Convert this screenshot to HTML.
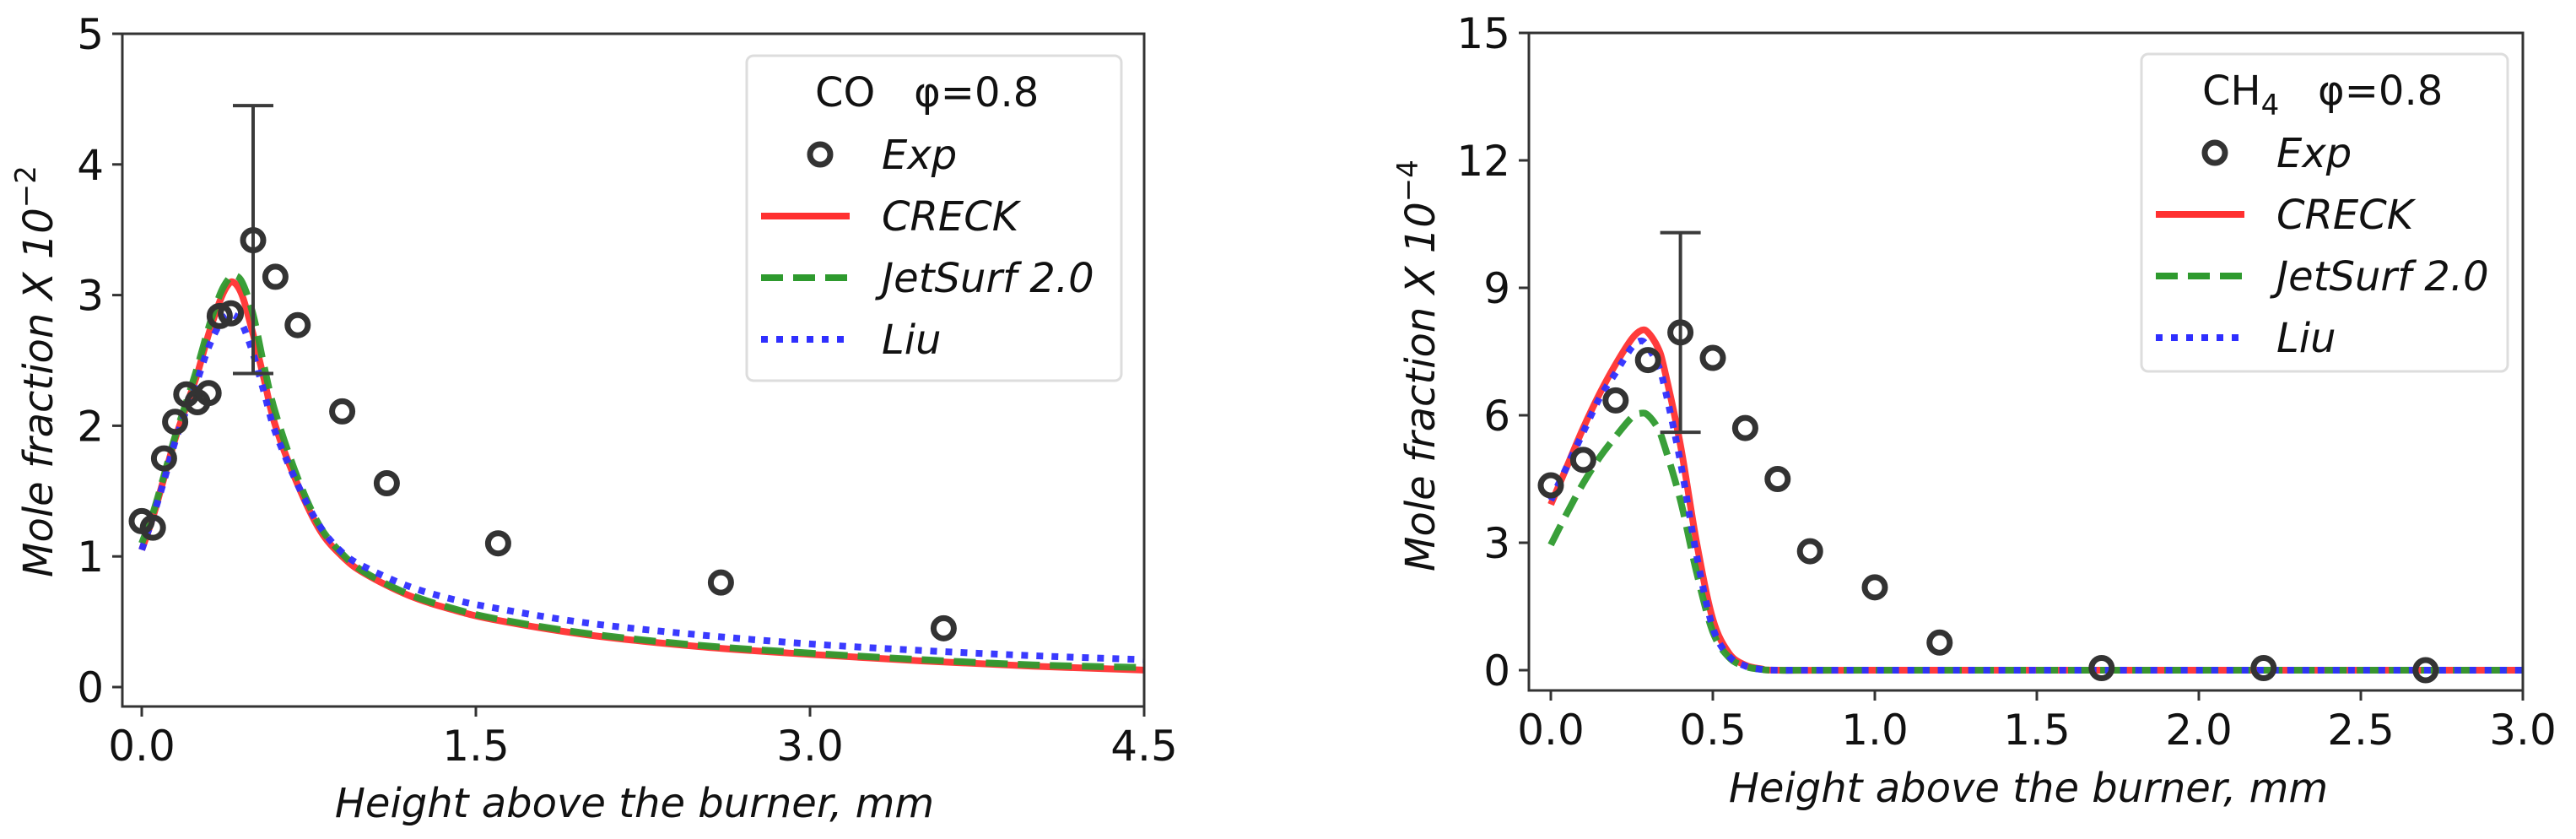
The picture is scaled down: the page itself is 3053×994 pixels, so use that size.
<!DOCTYPE html>
<html><head><meta charset="utf-8">
<style>
html,body{margin:0;padding:0;background:#fff;}
svg{display:block;}
text{font-family:"DejaVu Sans","Liberation Sans",sans-serif;fill:#111;}
</style></head>
<body>
<svg id="fig" width="3053" height="994" viewBox="0 0 3053 994" xmlns="http://www.w3.org/2000/svg"></svg>
<script>
// ---- Left panel data (CO) ----
const coExpX = [0,0.05,0.1,0.15,0.2,0.25,0.3,0.35,0.4,0.5,0.6,0.7,0.9,1.1,1.6,2.6,3.6];
const coExpY = [1.27,1.22,1.75,2.03,2.24,2.18,2.25,2.84,2.86,3.42,3.14,2.77,2.11,1.56,1.1,0.8,0.45];
const coErrX = [0.5];
const coErrLo = [2.4];
const coErrHi = [4.45];
const coModelX = [0,0.05,0.1,0.15,0.2,0.25,0.3,0.35,0.38,0.41,0.45,0.5,0.55,0.6,0.7,0.8,0.9,1.0,1.2,1.4,1.6,2.0,2.5,3.0,3.5,4.0,4.5];
const coCreck = [1.05,1.3,1.6,1.9,2.15,2.4,2.7,2.95,3.06,3.1,3.0,2.7,2.35,2.0,1.55,1.2,1.0,0.87,0.7,0.59,0.51,0.40,0.31,0.25,0.2,0.16,0.13];
const coJet = [1.1,1.33,1.62,1.92,2.18,2.45,2.75,3.0,3.1,3.15,3.1,2.85,2.45,2.1,1.6,1.23,1.02,0.88,0.71,0.6,0.52,0.41,0.32,0.26,0.21,0.17,0.15];
const coLiu = [1.05,1.3,1.58,1.88,2.12,2.35,2.6,2.78,2.84,2.85,2.78,2.55,2.25,1.95,1.55,1.23,1.03,0.92,0.77,0.67,0.6,0.49,0.40,0.33,0.28,0.24,0.21];
const coXTicks = [0,1.5,3.0,4.5];
const coXTickLabels = ["0.0","1.5","3.0","4.5"];
const coYTicks = [0,1,2,3,4,5];
const coYTickLabels = ["0","1","2","3","4","5"];
// ---- Right panel data (CH4) ----
const chExpX = [0,0.1,0.2,0.3,0.4,0.5,0.6,0.7,0.8,1.0,1.2,1.7,2.2,2.7];
const chExpY = [4.35,4.95,6.35,7.3,7.95,7.35,5.7,4.5,2.8,1.95,0.65,0.05,0.05,0.0];
const chErrX = [0.4];
const chErrLo = [5.6];
const chErrHi = [10.3];
const chModelX = [0,0.05,0.1,0.15,0.2,0.25,0.28,0.3,0.33,0.35,0.4,0.45,0.5,0.55,0.6,0.65,0.7,1.0,3.0];
const chCreck = [3.9,4.8,5.7,6.5,7.2,7.8,8.0,7.95,7.6,7.1,5.3,3.0,1.2,0.4,0.12,0.03,0.0,0,0];
const chLiu = [4.0,4.8,5.6,6.4,7.0,7.6,7.75,7.6,7.2,6.7,4.9,2.7,1.0,0.33,0.1,0.02,0,0,0];
const chJet = [2.95,3.7,4.4,5.0,5.5,5.95,6.05,6.0,5.7,5.3,4.0,2.3,0.9,0.3,0.09,0.02,0,0,0];
const chXTicks = [0,0.5,1.0,1.5,2.0,2.5,3.0];
const chXTickLabels = ["0.0","0.5","1.0","1.5","2.0","2.5","3.0"];
const chYTicks = [0,3,6,9,12,15];
const chYTickLabels = ["0","3","6","9","12","15"];

const NS = "http://www.w3.org/2000/svg";
const svg = document.getElementById('fig');
function mk(tag, attrs, parent){
  const e = document.createElementNS(NS, tag);
  for (const k in attrs) e.setAttribute(k, attrs[k]);
  (parent||svg).appendChild(e);
  return e;
}
const RED="#ff3030", GREEN="#2e9a2e", BLUE="#2f2fff", DARK="#333";

function smoothPath(P){
  let d = 'M' + P[0][0].toFixed(1) + ',' + P[0][1].toFixed(1);
  for (let i = 0; i < P.length - 1; i++){
    const p0 = P[Math.max(i-1,0)], p1 = P[i], p2 = P[i+1], p3 = P[Math.min(i+2,P.length-1)];
    const c1x = p1[0] + (p2[0]-p0[0])/6, c1y = p1[1] + (p2[1]-p0[1])/6;
    const c2x = p2[0] - (p3[0]-p1[0])/6, c2y = p2[1] - (p3[1]-p1[1])/6;
    d += ' C' + c1x.toFixed(1) + ',' + c1y.toFixed(1) + ' ' + c2x.toFixed(1) + ',' + c2y.toFixed(1) + ' ' + p2[0].toFixed(1) + ',' + p2[1].toFixed(1);
  }
  return d;
}

function panel(cfg){
  const g = mk('g', {});
  
  
  const sx = v => cfg.x0 + (v - cfg.xmin) * (cfg.x1 - cfg.x0) / (cfg.xmax - cfg.xmin);
  const sy = v => cfg.y0 + (v - cfg.ymin) * (cfg.y1 - cfg.y0) / (cfg.ymax - cfg.ymin);
  const L = cfg.left, R = cfg.right, T = cfg.top, B = cfg.bottom;
  const cid = cfg.name + '-clip';
  const defs = mk('defs', {}, g);
  const cp = mk('clipPath', {id: cid}, defs);
  mk('rect', {x: L, y: T, width: R-L, height: B-T}, cp);
  cfg.xt.forEach((v, i) => {
    const t = mk('line', {x1: sx(v), x2: sx(v), y1: B, y2: B+12, stroke: DARK, 'stroke-width': 3}, g);
    
    
    const tx = mk('text', {x: sx(v), y: B+64, 'font-size': 50, 'text-anchor': 'middle'}, g);
    tx.textContent = cfg.xtl[i];
    
    
  });
  cfg.yt.forEach((v, i) => {
    const t = mk('line', {x1: L-12, x2: L, y1: sy(v), y2: sy(v), stroke: DARK, 'stroke-width': 3}, g);
    
    
    const tx = mk('text', {x: L-22, y: sy(v)+18, 'font-size': 50, 'text-anchor': 'end'}, g);
    tx.textContent = cfg.ytl[i];
    
    
  });
  const plot = mk('g', {'clip-path': 'url(#' + cid + ')'}, g);
  function line(xs, ys, color, dash, nm){
    const P = xs.map((x, i) => [sx(x), sy(ys[i])]);
    const p = mk('path', {d: smoothPath(P), fill: 'none', stroke: color, 'stroke-width': 8, 'stroke-linejoin': 'round', 'stroke-opacity': 0.95}, plot);
    if (dash) p.setAttribute('stroke-dasharray', dash);
    
    
  }
  line(cfg.mx, cfg.creck, RED, null, 'creck-line');
  line(cfg.mx, cfg.jet, GREEN, '26 12', 'jetsurf-line');
  line(cfg.mx, cfg.liu, BLUE, '8 10', 'liu-line');
  cfg.ex.forEach((x, i) => {
    const e = mk('g', {stroke: '#3a3a3a', 'stroke-width': 4}, plot);
    
    
    mk('line', {x1: sx(x), x2: sx(x), y1: sy(cfg.elo[i]), y2: sy(cfg.ehi[i])}, e);
    mk('line', {x1: sx(x)-24, x2: sx(x)+24, y1: sy(cfg.elo[i]), y2: sy(cfg.elo[i])}, e);
    mk('line', {x1: sx(x)-24, x2: sx(x)+24, y1: sy(cfg.ehi[i]), y2: sy(cfg.ehi[i])}, e);
  });
  cfg.px.forEach((x, i) => {
    const c = mk('circle', {cx: sx(x), cy: sy(cfg.py[i]), r: 12, fill: 'none', stroke: DARK, 'stroke-width': 7}, plot);
    
    
  });
  const fr = mk('rect', {x: L, y: T, width: R-L, height: B-T, fill: 'none', stroke: DARK, 'stroke-width': 3}, g);
  
  
  const xl = mk('text', {x: cfg.xlx, y: cfg.xly, 'font-size': 48, 'font-style': 'italic', 'text-anchor': 'middle'}, g);
  xl.textContent = 'Height above the burner, mm';
  
  
  const yl = mk('text', {x: 0, y: 0, 'font-size': 48, 'font-style': 'italic', 'text-anchor': 'middle', transform: 'translate(' + cfg.ylx + ',' + cfg.yly + ') rotate(-90)'}, g);
  yl.innerHTML = 'Mole fraction X 10<tspan dy="-20" font-size="34" font-style="normal">\u2212' + cfg.exp + '</tspan>';
  
  
  const lg = mk('g', {}, g);
  
  
  const lx = cfg.lgx, ly = cfg.lgy;
  mk('rect', {x: lx, y: ly, width: cfg.lgw, height: cfg.lgh, rx: 8, fill: '#fff', 'fill-opacity': 0.85, stroke: '#ddd', 'stroke-width': 3}, lg);
  const tt = mk('text', {x: cfg.ttx, y: ly + 60, 'font-size': 48}, lg);
  tt.innerHTML = cfg.title;
  
  
  const hx = lx + 17, tx = lx + 160;
  const rows = [ly+117, ly+190, ly+263, ly+336];
  const c = mk('circle', {cx: hx+70, cy: rows[0], r: 12, fill: 'none', stroke: DARK, 'stroke-width': 7}, lg);
  
  
  mk('line', {x1: hx, x2: hx+105, y1: rows[1], y2: rows[1], stroke: RED, 'stroke-width': 8}, lg);
  mk('line', {x1: hx, x2: hx+105, y1: rows[2], y2: rows[2], stroke: GREEN, 'stroke-width': 8, 'stroke-dasharray': '26 12'}, lg);
  mk('line', {x1: hx, x2: hx+105, y1: rows[3], y2: rows[3], stroke: BLUE, 'stroke-width': 8, 'stroke-dasharray': '8 10'}, lg);
  ['Exp','CRECK','JetSurf 2.0','Liu'].forEach((s, i) => {
    const t = mk('text', {x: tx, y: rows[i] + 17, 'font-size': 48, 'font-style': 'italic'}, lg);
    t.textContent = s;
    
    
  });
}

panel({name: 'co-panel', left: 145, right: 1356, top: 40, bottom: 837,
  xmin: 0, xmax: 4.5, x0: 168, x1: 1356, ymin: 0, ymax: 5, y0: 814, y1: 40,
  xt: coXTicks, xtl: coXTickLabels, yt: coYTicks, ytl: coYTickLabels,
  mx: coModelX, creck: coCreck, jet: coJet, liu: coLiu,
  px: coExpX, py: coExpY, ex: coErrX, elo: coErrLo, ehi: coErrHi,
  xlx: 752, xly: 968, ylx: 62, yly: 440, exp: '2',
  lgx: 885, lgy: 66, lgw: 444, lgh: 385, ttx: 966, title: 'CO \u00a0\u00a0\u03c6=0.8'});

panel({name: 'ch4-panel', left: 1812, right: 2990, top: 39, bottom: 818,
  xmin: 0, xmax: 3, x0: 1838, x1: 2990, ymin: 0, ymax: 15, y0: 794, y1: 39,
  xt: chXTicks, xtl: chXTickLabels, yt: chYTicks, ytl: chYTickLabels,
  mx: chModelX, creck: chCreck, jet: chJet, liu: chLiu,
  px: chExpX, py: chExpY, ex: chErrX, elo: chErrLo, ehi: chErrHi,
  xlx: 2404, xly: 950, ylx: 1700, yly: 433, exp: '4',
  lgx: 2538, lgy: 64, lgw: 434, lgh: 376, ttx: 2610, title: 'CH<tspan dy="12" font-size="34">4</tspan><tspan dy="-12"> \u00a0\u00a0\u03c6=0.8</tspan>'});
</script>
</body></html>
